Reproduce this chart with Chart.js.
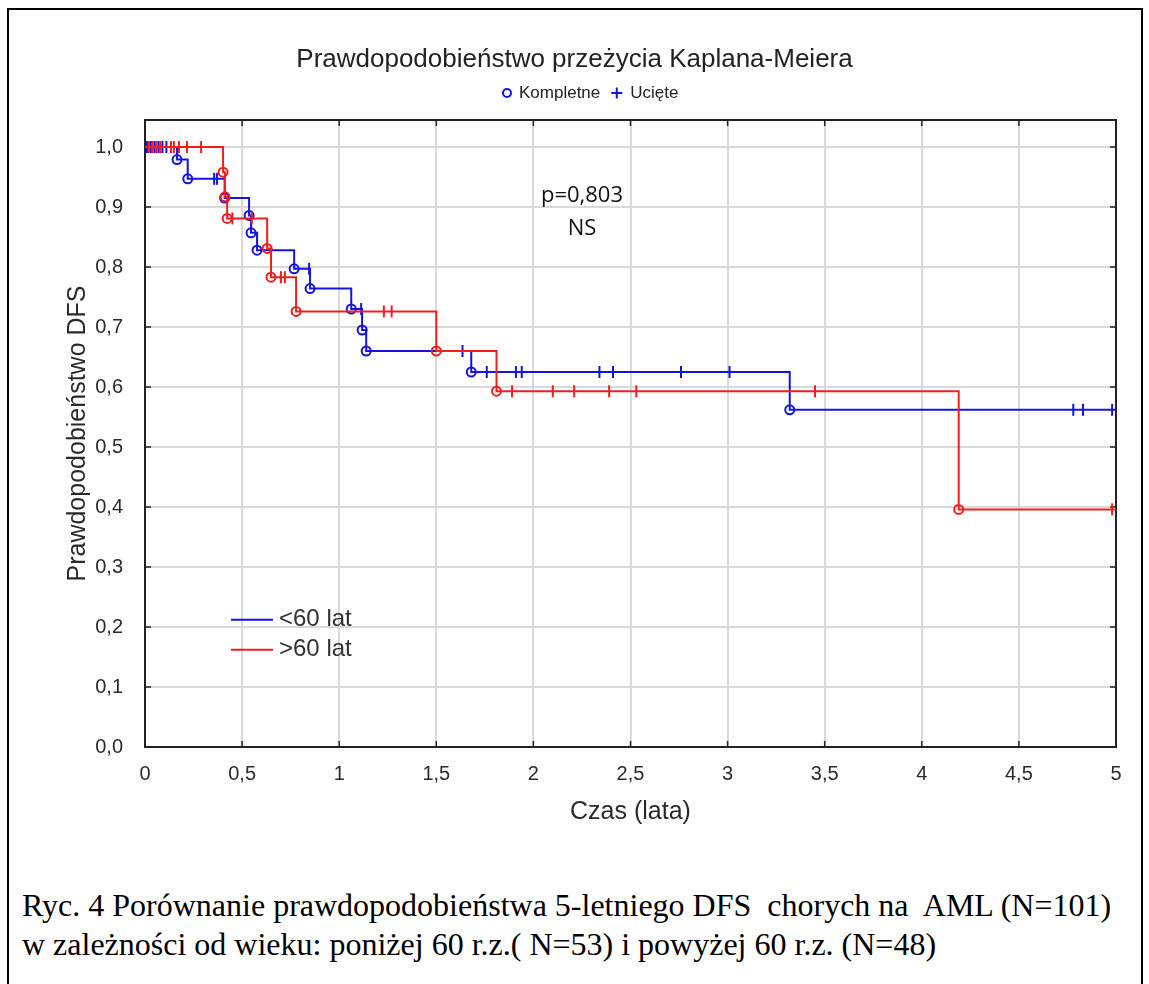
<!DOCTYPE html>
<html>
<head>
<meta charset="UTF-8">
<title>Prawdopodobieństwo przeżycia Kaplana-Meiera</title>
<script src="https://cdn.jsdelivr.net/npm/chart.js@4.4.1/dist/chart.umd.min.js"></script>
<style>
	body { margin: 0; background: #fff; }
	#frame { position: absolute; left: 7px; top: 8px; width: 1136px; height: 1000px; border: 2px solid #000; box-sizing: border-box; }
	#chart { position: absolute; left: 0; top: 0; }
	#caption { position: absolute; left: 22px; top: 886px; font-family: "Liberation Serif", serif; font-size: 32px; line-height: 39px; white-space: pre; color: #000; }
</style>
</head>
<body>
	<div id="frame"></div>
	<canvas id="chart" width="1149" height="860"></canvas>
	<div id="caption">Ryc. 4 Porównanie prawdopodobieństwa 5-letniego DFS  chorych na  AML (N=101)
w zależności od wieku: poniżej 60 r.z.( N=53) i powyżej 60 r.z. (N=48)</div>

<script>
// <60 lat: event times (years) and survival after each step
var tYoung = [0, 0.165, 0.22, 0.41, 0.536, 0.546, 0.577, 0.768, 0.85, 1.062, 1.118, 1.139, 1.68, 3.32, 5.0];
var sYoung = [1.0, 0.979, 0.947, 0.915, 0.886, 0.857, 0.828, 0.797, 0.764, 0.73, 0.695, 0.66, 0.625, 0.562, 0.562];
// censored observations (ucięte)
var cYoung = [0.01, 0.03, 0.05, 0.07, 0.09, 0.11, 0.356, 0.371, 0.845, 1.113, 1.635,
	1.76, 1.91, 1.94, 2.34, 2.41, 2.76, 3.01, 4.78, 4.83, 4.98];

// >60 lat
var tOld = [0, 0.402, 0.412, 0.423, 0.629, 0.649, 0.778, 1.5, 1.81, 4.19, 5.0];
var sOld = [1.0, 0.958, 0.917, 0.881, 0.831, 0.783, 0.726, 0.66, 0.593, 0.396, 0.396];
var cOld = [0.02, 0.04, 0.06, 0.08, 0.134, 0.149, 0.175, 0.216, 0.289, 0.45, 0.55, 0.70, 0.72,
	1.23, 1.27, 1.89, 2.10, 2.21, 2.39, 2.53, 3.45, 4.98];

var xTicks = [0, 0.5, 1, 1.5, 2, 2.5, 3, 3.5, 4, 4.5, 5];
var yTicks = [0, 0.1, 0.2, 0.3, 0.4, 0.5, 0.6, 0.7, 0.8, 0.9, 1.0];

var BLUE = 'rgb(20,20,225)';
var RED = 'rgb(240,30,30)';

// value of the step curve at time t
function survAt(times, surv, t) {
	var v = surv[0];
	for (var i = 0; i < times.length; i++) {
		if (times[i] <= t) v = surv[i];
	}
	return v;
}

function curve(times, surv) {
	return times.map(function (t, i) { return { x: t, y: surv[i] }; });
}
function events(times, surv) {
	return curve(times, surv).slice(1, -1);
}
function censored(cens, times, surv) {
	return cens.map(function (t) { return { x: t, y: survAt(times, surv, t) }; });
}

function comma(v) { return String(v).replace('.', ','); }

// frame around the plot and small inward ticks
var frame = {
	id: 'frame',
	beforeDatasetsDraw: function (chart) {
		var ctx = chart.ctx, a = chart.chartArea, x = chart.scales.x, y = chart.scales.y;
		ctx.save();
		ctx.strokeStyle = '#222';
		ctx.lineWidth = 2;
		ctx.strokeRect(a.left, a.top, a.right - a.left, a.bottom - a.top);
		ctx.lineWidth = 1.5;
		ctx.beginPath();
		yTicks.forEach(function (v) {
			var py = y.getPixelForValue(v);
			ctx.moveTo(a.left, py); ctx.lineTo(a.left + 6, py);
			ctx.moveTo(a.right, py); ctx.lineTo(a.right - 6, py);
		});
		xTicks.forEach(function (v) {
			var px = x.getPixelForValue(v);
			ctx.moveTo(px, a.bottom); ctx.lineTo(px, a.bottom - 6);
			ctx.moveTo(px, a.top); ctx.lineTo(px, a.top + 6);
		});
		ctx.stroke();
		ctx.restore();
	}
};

// title, symbol key, p-value and group legend
var texts = {
	id: 'texts',
	afterDraw: function (chart) {
		var ctx = chart.ctx, x = chart.scales.x, y = chart.scales.y;
		var cx = chart.width / 2;
		ctx.save();
		ctx.fillStyle = '#222';
		ctx.textAlign = 'center';
		ctx.textBaseline = 'middle';
		ctx.font = '26px "Liberation Sans"';
		ctx.fillText('Prawdopodobieństwo przeżycia Kaplana-Meiera', cx, 60);

		// symbol key: circle = complete, plus = censored
		ctx.font = '17px "Liberation Sans"';
		ctx.textAlign = 'left';
		ctx.strokeStyle = BLUE;
		ctx.lineWidth = 2;
		var kx = 503, ky = 93;
		ctx.beginPath();
		ctx.arc(kx + 4, ky, 4, 0, Math.PI * 2);
		ctx.stroke();
		kx += 16;
		ctx.fillText('Kompletne', kx, ky);
		kx += ctx.measureText('Kompletne').width + 11;
		ctx.beginPath();
		ctx.moveTo(kx, ky); ctx.lineTo(kx + 11, ky);
		ctx.moveTo(kx + 5.5, ky - 5.5); ctx.lineTo(kx + 5.5, ky + 5.5);
		ctx.stroke();
		kx += 19;
		ctx.fillText('Ucięte', kx, ky);

		ctx.fillStyle = '#111';
		ctx.textAlign = 'center';
		ctx.font = '22px "Open Sans"';
		var px = x.getPixelForValue(2.25);
		ctx.fillText('p=0,803', px, y.getPixelForValue(0.918));
		ctx.fillText('NS', px, y.getPixelForValue(0.864));

		ctx.font = '24px "Liberation Sans"';
		ctx.textAlign = 'left';
		ctx.fillStyle = '#333';
		[[BLUE, '<60 lat', 0.212], [RED, '>60 lat', 0.162]].forEach(function (g) {
			var py = y.getPixelForValue(g[2]);
			ctx.strokeStyle = g[0];
			ctx.lineWidth = 2;
			ctx.beginPath();
			ctx.moveTo(231, py); ctx.lineTo(273, py);
			ctx.stroke();
			ctx.fillText(g[1], 279, py);
		});
		ctx.restore();
	}
};

var ctx = document.getElementById('chart').getContext('2d');
var chart = new Chart(ctx, {
	type: 'line',
	data: {
		datasets: [
			{ data: curve(tOld, sOld), borderColor: RED, borderWidth: 2, stepped: 'before', pointRadius: 0, order: 1 },
			{ type: 'scatter', data: events(tOld, sOld), borderColor: RED, backgroundColor: 'rgba(0,0,0,0)',
				pointStyle: 'circle', pointRadius: 4.5, borderWidth: 2, order: 0 },
			{ type: 'scatter', data: censored(cOld, tOld, sOld), borderColor: RED,
				pointStyle: 'line', rotation: 90, pointRadius: 6, borderWidth: 2, order: 0 },
			{ data: curve(tYoung, sYoung), borderColor: BLUE, borderWidth: 2, stepped: 'before', pointRadius: 0, order: 3 },
			{ type: 'scatter', data: events(tYoung, sYoung), borderColor: BLUE, backgroundColor: 'rgba(0,0,0,0)',
				pointStyle: 'circle', pointRadius: 4.5, borderWidth: 2, order: 2 },
			{ type: 'scatter', data: censored(cYoung, tYoung, sYoung), borderColor: BLUE,
				pointStyle: 'line', rotation: 90, pointRadius: 6, borderWidth: 2, order: 2 }
		]
	},
	plugins: [frame, texts],
	options: {
		responsive: false,
		animation: false,
		devicePixelRatio: 1,
		layout: { padding: { left: 0, top: 120, right: 33, bottom: 0 } },
		plugins: { legend: { display: false }, tooltip: { enabled: false }, title: { display: false } },
		scales: {
			x: {
				type: 'linear', min: 0, max: 5,
				afterBuildTicks: function (s) { s.ticks = xTicks.map(function (v) { return { value: v }; }); },
				afterFit: function (s) { s.height = 113; },
				ticks: { callback: function (v) { return comma(v); }, font: { family: 'Liberation Sans', size: 20 }, color: '#2a2a2a', padding: 15, maxRotation: 0 },
				grid: { color: '#d9d9d9', lineWidth: 2, drawTicks: false },
				border: { display: false },
				title: { display: true, text: 'Czas (lata)', font: { family: 'Liberation Sans', size: 25 }, color: '#2a2a2a', padding: { top: 0, bottom: 33 } }
			},
			y: {
				type: 'linear', min: 0, max: 1.045,
				afterBuildTicks: function (s) { s.ticks = yTicks.map(function (v) { return { value: v }; }); },
				afterFit: function (s) { s.width = 145; },
				ticks: { callback: function (v) { return comma(v.toFixed(1)); }, font: { family: 'Liberation Sans', size: 20 }, color: '#2a2a2a', padding: 22 },
				grid: { color: '#d9d9d9', lineWidth: 2, drawTicks: false },
				border: { display: false },
				title: { display: true, text: 'Prawdopodobieństwo DFS', font: { family: 'Liberation Sans', size: 25 }, color: '#2a2a2a', padding: { top: 63, bottom: 0 } }
			}
		}
	}
});
</script>
</body>
</html>
